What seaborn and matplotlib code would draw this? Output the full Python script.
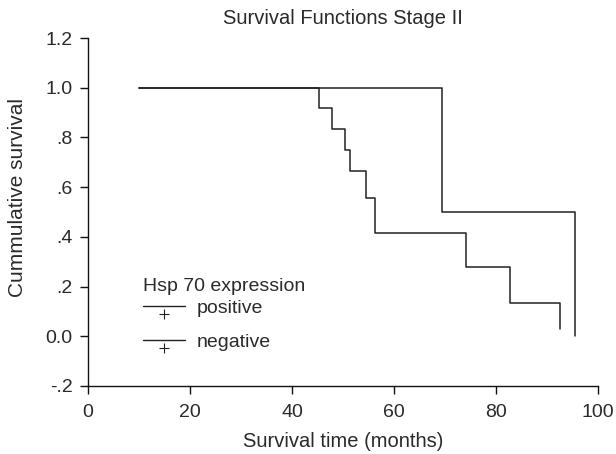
import numpy as np
import pandas as pd
import matplotlib
matplotlib.use("Agg")
import matplotlib.pyplot as plt
import seaborn as sns
from matplotlib.lines import Line2D
from matplotlib.path import Path
from matplotlib.legend_handler import HandlerTuple

sns.set_theme(style="ticks")
plt.rcParams['font.family'] = ['Liberation Sans', 'DejaVu Sans']

# Data
pos_time = [10, 45.2, 47.9, 50.3, 51.4, 54.4, 56.3, 74.0, 82.7, 92.6]
pos_surv = [1.0, 0.917, 0.833, 0.75, 0.667, 0.556, 0.417, 0.278, 0.135, 0.03]
neg_time = [10, 69.4, 95.5]
neg_surv = [1.0, 0.5, 0.0]
groups = ["positive", "negative"]
yticks = [-0.2, 0.0, 0.2, 0.4, 0.6, 0.8, 1.0, 1.2]
ytick_labels = ["-.2", "0.0", ".2", ".4", ".6", ".8", "1.0", "1.2"]
xticks = [0, 20, 40, 60, 80, 100]

df = pd.concat([
    pd.DataFrame({"time": pos_time, "surv": pos_surv, "group": groups[0]}),
    pd.DataFrame({"time": neg_time, "surv": neg_surv, "group": groups[1]}),
])

txt = "#2a2a2a"
fs = 14
fig = plt.figure(figsize=(6.16, 4.54), dpi=100)
ax = fig.add_axes([0.143, 0.15, 0.828, 0.766])
sns.lineplot(data=df, x="time", y="surv", hue="group", palette={"positive": "#222222", "negative": "#222222"},
             drawstyle="steps-post", estimator=None, linewidth=1.1, legend=False, ax=ax)

ax.set_xlim(0, 100)
ax.set_ylim(-0.2, 1.2)
ax.set_xticks(xticks)
ax.set_xticklabels([str(v) for v in xticks])
ax.set_yticks(yticks)
ax.set_yticklabels(ytick_labels)
sns.despine(ax=ax)
for s in ("left", "bottom"):
    ax.spines[s].set_color("#111111")
    ax.spines[s].set_linewidth(1.0)
ax.tick_params(axis="both", direction="out", length=6, width=1.0, colors="#111111",
               labelcolor=txt, labelsize=fs)
ax.tick_params(axis="x", pad=7)
ax.tick_params(axis="y", pad=5)
ax.set_xlabel("Survival time (months)", fontsize=fs + 0.5, color=txt, labelpad=8)
ax.set_ylabel("Cummulative survival", fontsize=fs + 1, color=txt)
ax.yaxis.set_label_coords(-0.12, 0.543)
ax.set_title("Survival Functions Stage II", fontsize=fs + 0.5, color=txt, pad=10)

# legend title as separate text, entries as legend
ax.text(0.108, 0.286, "Hsp 70 expression", transform=ax.transAxes, fontsize=fs,
        color=txt, ha="left", va="center")
plus_below = Path([(-1, -1.7), (1, -1.7), (0, -0.7), (0, -2.7)],
                  [Path.MOVETO, Path.LINETO, Path.MOVETO, Path.LINETO])
handles = []
for g in groups:
    ln = Line2D([], [], color="#222222", lw=1.0)
    mk = Line2D([], [], color="#222222", lw=0, marker=plus_below, markersize=18, markeredgewidth=0.8)
    handles.append((ln, mk))
leg = ax.legend(handles, groups, handler_map={tuple: HandlerTuple(ndivide=1)},
                loc="upper left", bbox_to_anchor=(0.108, 0.249),
                borderpad=0, borderaxespad=0,
                frameon=False, fontsize=fs, handlelength=2.16,
                handletextpad=0.6, labelspacing=0.85)
for t in leg.get_texts():
    t.set_color(txt)

fig.savefig("out.png", dpi=100)
